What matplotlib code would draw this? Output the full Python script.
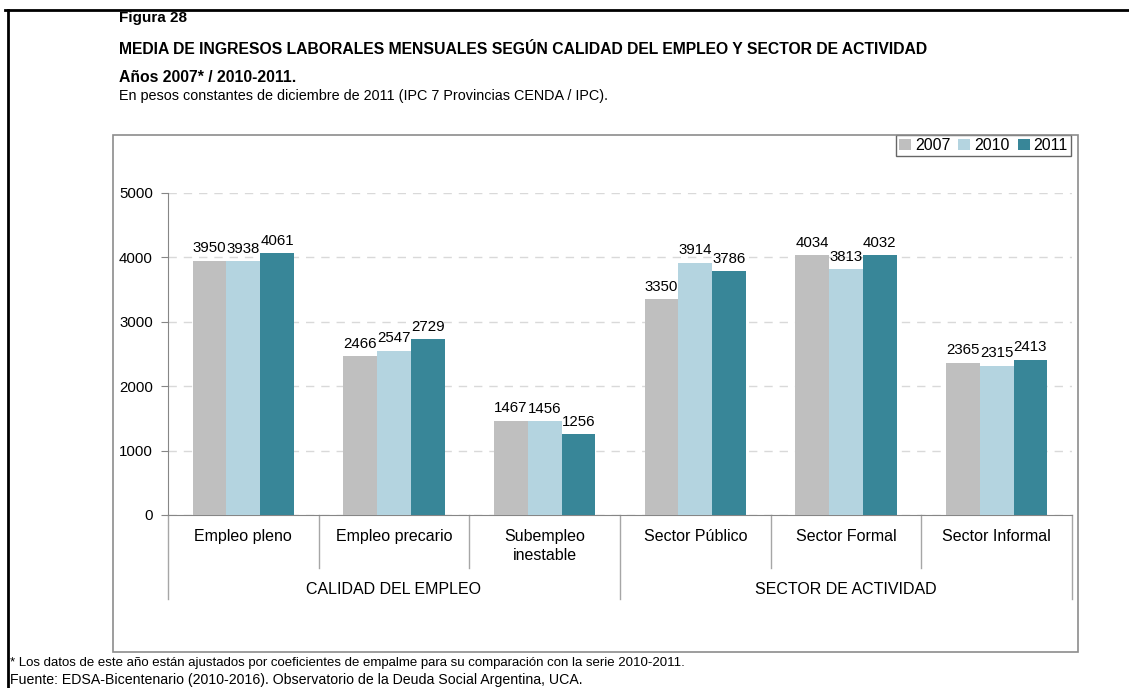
import numpy as np
import matplotlib
matplotlib.use('Agg')
from matplotlib import pyplot as plt
from matplotlib.patches import Rectangle
from matplotlib.lines import Line2D
import matplotlib.transforms as mtransforms

plt.rcParams['font.family'] = ['Liberation Sans', 'DejaVu Sans']

categories = ['Empleo pleno', 'Empleo precario', 'Subempleo\ninestable',
              'Sector Público', 'Sector Formal', 'Sector Informal']
groups = ['CALIDAD DEL EMPLEO', 'SECTOR DE ACTIVIDAD']
years = ['2007', '2010', '2011']
v2007 = [3950, 2466, 1467, 3350, 4034, 2365]
v2010 = [3938, 2547, 1456, 3914, 3813, 2315]
v2011 = [4061, 2729, 1256, 3786, 4032, 2413]
colors = ['#BFBFBF', '#B4D4E0', '#388698']

W, H = 1129, 688
fig = plt.figure(figsize=(W / 100, H / 100), dpi=100)


def fx(px):
    return px / W


def fy(py):
    return 1 - py / H


# outer black frame (top and left only, the rest is cut off)
fig.add_artist(Line2D([fx(5), 1.0], [fy(10), fy(10)], color='black', lw=2))
fig.add_artist(Line2D([fx(8), fx(8)], [fy(10), 0.0], color='black', lw=2))

# inner chart frame
fig.add_artist(Rectangle((fx(113), fy(652)), fx(1078) - fx(113), fy(135) - fy(652),
                         fill=False, edgecolor='#8C8C8C', lw=1.2))

fig.text(fx(119), fy(18), 'Figura 28', fontsize=11, fontweight='bold', va='center')
fig.text(fx(119), fy(49), 'MEDIA DE INGRESOS LABORALES MENSUALES SEGÚN CALIDAD DEL EMPLEO Y SECTOR DE ACTIVIDAD',
         fontsize=11.3, fontweight='bold', va='center')
fig.text(fx(119), fy(77), 'Años 2007* / 2010-2011.', fontsize=11.3, fontweight='bold', va='center')
fig.text(fx(119), fy(96), 'En pesos constantes de diciembre de 2011 (IPC 7 Provincias CENDA / IPC).',
         fontsize=10.4, va='center')
fig.text(fx(10), fy(663), '* Los datos de este año están ajustados por coeficientes de empalme para su comparación con la serie 2010-2011.',
         fontsize=9.5, va='center')
fig.text(fx(10), fy(680), 'Fuente: EDSA-Bicentenario (2010-2016). Observatorio de la Deuda Social Argentina, UCA.',
         fontsize=10.2, va='center')

ax = fig.add_axes([fx(168), fy(515), fx(1072) - fx(168), fy(193) - fy(515)])

x = np.arange(len(categories))
bw = 0.224
for i, (vals, c, yr) in enumerate(zip([v2007, v2010, v2011], colors, years)):
    pos = x + (i - 1) * bw
    ax.bar(pos, vals, width=bw, color=c, label=yr, zorder=3)
    for p, v in zip(pos, vals):
        ax.annotate(f'{v}', xy=(p, v), xytext=(0, 4), textcoords='offset points',
                    ha='center', va='bottom', fontsize=10.8)

ax.set_xlim(-0.5, len(categories) - 0.5)
ax.set_ylim(0, 5000)
ax.set_yticks(range(0, 5001, 1000))
ax.yaxis.grid(True, linestyle=(0, (6, 5)), color='#D9D9D9', lw=1, zorder=0)
ax.set_xticks([])
for s in ['top', 'right']:
    ax.spines[s].set_visible(False)
ax.spines['left'].set_color('#868686')
ax.spines['bottom'].set_color('#868686')
ax.tick_params(axis='y', direction='out', length=5, color='#868686', labelsize=10.8, pad=6)

# category labels and separators below the axis
trans = mtransforms.blended_transform_factory(ax.transData, ax.transAxes)
for i, cat in enumerate(categories):
    ax.text(i, -0.045, cat, transform=trans, ha='center', va='top', fontsize=11.5, linespacing=1.3)
for b in np.arange(-0.5, len(categories), 1.0):
    depth = -0.261 if b in (-0.5, 2.5, 5.5) else -0.165
    ax.plot([b, b], [0, depth], transform=trans, color='#A6A6A6', lw=1, clip_on=False)
for j, g in enumerate(groups):
    ax.text(1 + 3 * j, -0.232, g, transform=trans, ha='center', va='center', fontsize=11.5)

leg = ax.legend(loc='upper right', bbox_to_anchor=(fx(1071), fy(135)), bbox_transform=fig.transFigure,
                ncol=3, fontsize=11.5, frameon=True, fancybox=False, handlelength=0.75, handleheight=0.75,
                handletextpad=0.25, columnspacing=0.5, borderpad=0.2, borderaxespad=0)
leg.get_frame().set_edgecolor('#404040')
leg.get_frame().set_linewidth(1)

fig.savefig('out.png', dpi=100)
